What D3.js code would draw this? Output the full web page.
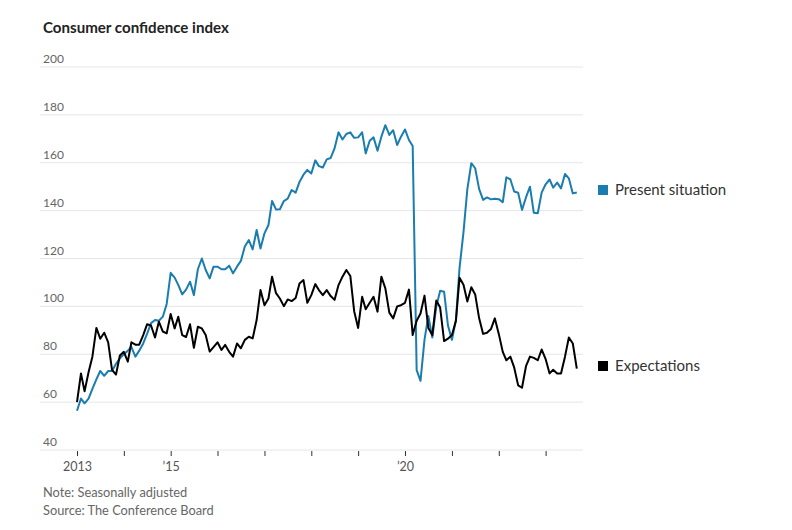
<!DOCTYPE html>
<html><head><meta charset="utf-8">
<script src="https://cdn.jsdelivr.net/npm/d3@7"></script>
<style>
body{margin:0;background:#fff;}
svg{display:block;font-family:Lato,"Noto Sans",sans-serif;}
</style></head>
<body><svg id="c" width="792" height="530"></svg>
<script>
const startYear = 2013;
const presentSituation = [
56.4,61.5,59.5,61.5,65.5,69.5,73,71,73,73,76,78.3,
80,81.5,83,79,81.5,84.5,88.5,93,94.3,94,95.7,101,
114,112,109,105,107,110.3,104.7,115.5,120,115.2,111.7,116.6,
116.6,115.5,115.5,117,113.8,116.6,119,125,127.7,123.8,131.9,124.2,
130.5,134,144,140.5,140.6,144,145,148.6,147.5,152,155,157,
155.5,161,158.6,158,161.4,162,166,172.7,169.7,172,172.7,170.4,
170.6,172.7,163.9,169.2,170.6,165,170.9,175.7,171.6,173.6,167.4,170.9,
173.9,169.5,167,73.4,68.9,86,96,87,99.9,106.5,106.1,92,
86,94.3,116,131,149,159.8,157.7,149,144.5,145.5,144.7,145,
144.8,143.5,153.9,153.1,148,147.5,140.3,145.5,150,139.1,138.9,147.5,
151,153,149.6,151.7,149.3,155.3,153.5,147.2,147.6
];
const expectations = [
60,72,64.5,72.5,79,91,86.5,89,85,73.5,71.5,79.5,
81,76.9,85,84,84,88,92.5,92,87,93.6,89.5,88.7,
96.8,90.8,95.7,88,87.2,92.5,82.7,91.5,90.8,88,81.1,83,
85,81.8,83.9,81,79,84.5,82.5,86,87.3,86.6,94.3,106.8,
100.5,103.3,112.4,105.5,103.3,100.1,102.9,102.2,103.5,109.6,111,101.5,
104.7,109.3,106.8,104.7,106.8,104.3,102.7,108.9,112.4,115.2,112.7,98,
91,104,98.8,101.5,104,97.8,112.4,107.5,97.4,95,100,100.5,
101.5,107,88,94,97,104.5,91,88,102.5,99.5,85.5,86.5,
88,94,112,109,102,108,105,95,88.5,89,90.5,95,
88.5,81,77.5,79,74.5,67,66,75,79,78.5,77.5,82,
78,72,73.5,72,72,79,87,84.5,74
];
const yTicks = [40,60,80,100,120,140,160,180,200];
const xTickYears = [2013,2014,2015,2016,2017,2018,2019,2020,2021,2022,2023];
const xLabelYears = {2013:"2013",2015:"\u201915",2020:"\u201920"};
const seriesNames = ["Present situation","Expectations"];
const colors = ["#1a7db0","#000000"];

const svg = d3.select("#c");
const monthDate = i => new Date(startYear, i, 1);

const x = d3.scaleTime().domain([new Date(2013,0,1), new Date(2023,8,1)]).range([77, 576.8]);
const y = d3.scaleLinear().domain([40,200]).range([450,67]);

// gridlines + y labels
const g = svg.append("g");
yTicks.forEach(t=>{
  g.append("line").attr("x1",40).attr("x2",583).attr("y1",y(t)).attr("y2",y(t))
   .attr("stroke","#e6e6e6").attr("stroke-width",1);
  g.append("text").attr("x",43).attr("y",y(t)-4).text(t)
   .attr("font-size",12).attr("fill","#666");
});

// x axis
const xAxis = d3.axisBottom(x)
  .tickValues(xTickYears.map(yr=>new Date(yr,0,1)))
  .tickSize(5).tickPadding(6)
  .tickFormat(d=>xLabelYears[d.getFullYear()]||"");
const xa = svg.append("g").attr("transform",`translate(0,${y(40)+1})`).call(xAxis);
xa.select(".domain").remove();
xa.selectAll(".tick line").attr("stroke","#333");
xa.selectAll(".tick text").attr("font-size",12.5).attr("fill","#555").attr("font-family","Lato,'Noto Sans',sans-serif");

// lines
const line = d3.line().x((d,i)=>x(monthDate(i))).y(d=>y(d)).curve(d3.curveLinear);
[presentSituation, expectations].forEach((s,k)=>{
  svg.append("path").attr("d",line(s)).attr("fill","none")
    .attr("stroke",colors[k]).attr("stroke-width",2).attr("stroke-linejoin","round");
});

// legend
const legendY = [190, 366];
seriesNames.forEach((n,k)=>{
  svg.append("rect").attr("x",598).attr("y",legendY[k]-5).attr("width",10).attr("height",10).attr("fill",colors[k]);
  svg.append("text").attr("x",615).attr("y",legendY[k]+5).text(n).attr("font-size",15).attr("fill","#333");
});

// title & notes
svg.append("text").attr("x",43).attr("y",33).text("Consumer confidence index")
  .attr("font-size",15.1).attr("font-weight","bold").attr("fill","#222");
svg.append("text").attr("x",43).attr("y",497).text("Note: Seasonally adjusted").attr("font-size",12.8).attr("fill","#666");
svg.append("text").attr("x",43).attr("y",515).text("Source: The Conference Board").attr("font-size",12.8).attr("fill","#666");
</script></body></html>
